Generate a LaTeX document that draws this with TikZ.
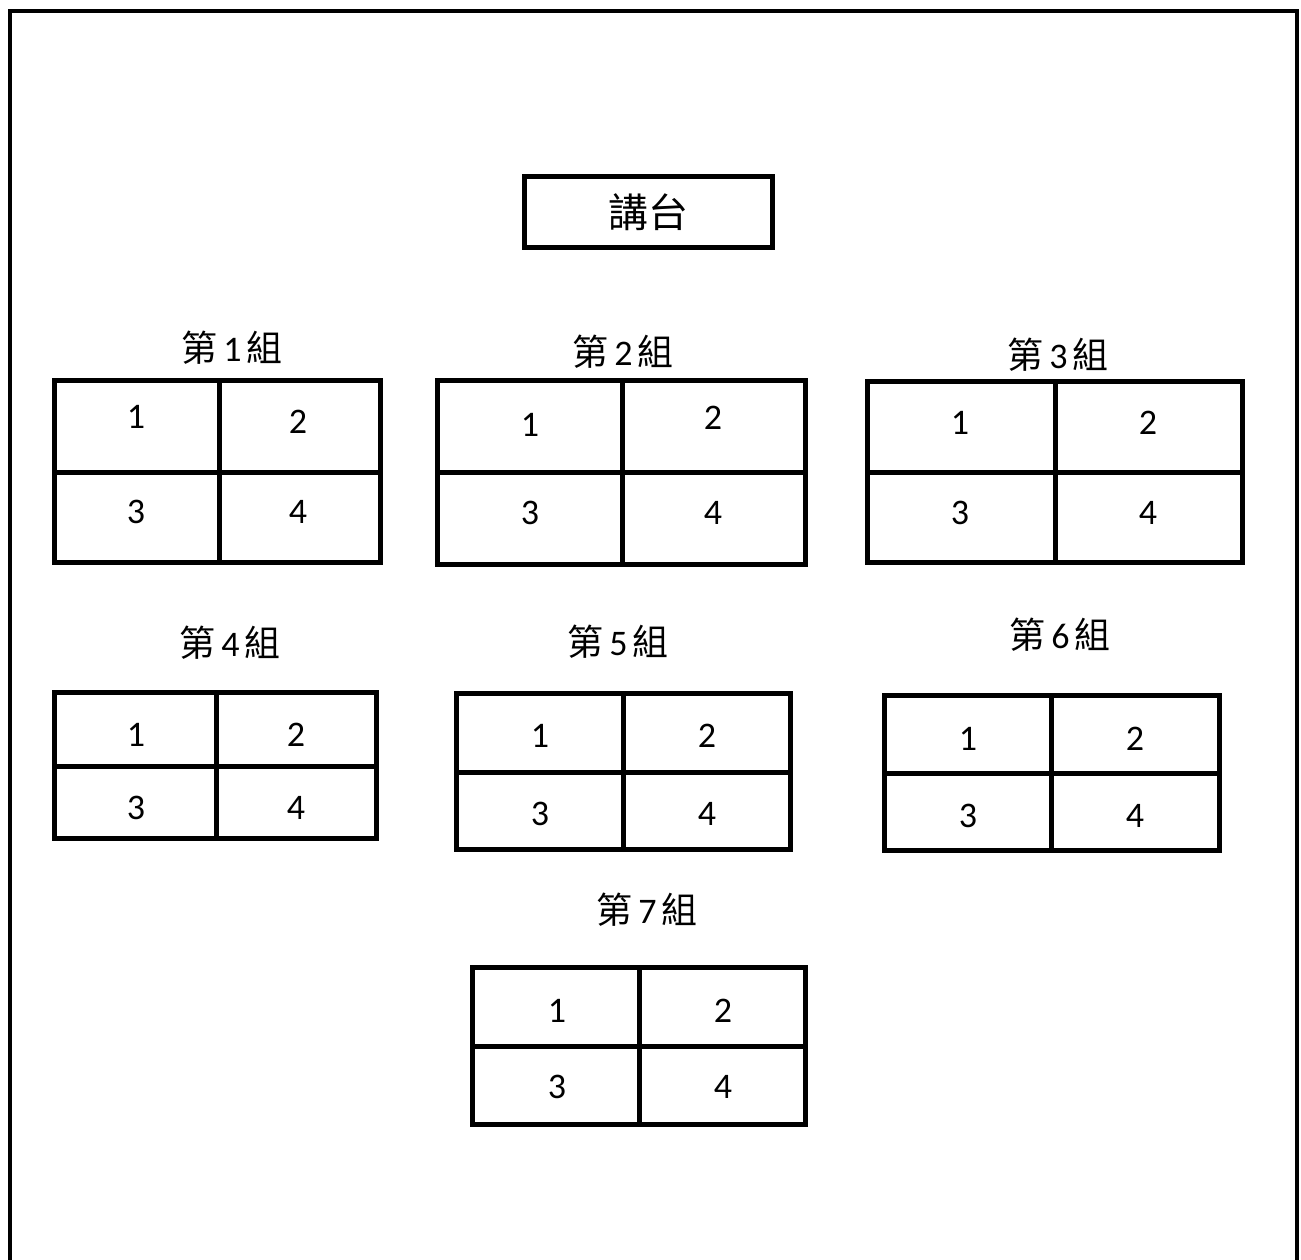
\documentclass[tikz,border=0pt]{standalone}
\usepackage{fontspec}
\setmainfont{Carlito}
\newfontfamily\cjk{Noto Sans CJK TC}
\tikzset{
  tbl/.style={line width=5pt},
  frame/.style={line width=4pt},
  num/.style={font=\fontsize{36}{36}\selectfont, inner sep=0pt},
  lbl/.style={font=\fontsize{36}{36}\selectfont, inner sep=0pt},
  podium/.style={draw, line width=5pt, minimum width=248pt, minimum height=71pt, font=\cjk\fontsize{40}{40}\selectfont}
}
\newcommand{\grp}[1]{{\cjk 第}\hspace{6pt}#1\hspace{5pt}{\cjk 組}}
\begin{document}
\begin{tikzpicture}[x=1pt,y=-1pt]
\useasboundingbox (0,0) rectangle (1301,1259);
% outer frame (open at bottom)
\draw[frame] (9.5,1262) -- (9.5,10.5) -- (1296.5,10.5) -- (1296.5,1262);
% lectern
\node[podium] (podium) at (648.5,212) {講台};

% group 1
\draw[tbl] (54.5,380.5) rectangle (380.5,562.5);
\draw[tbl] (219,380.5) -- (219,562.5);
\draw[tbl] (54.5,472) -- (380.5,472);
\node[lbl] (g1) at (232,348) {\grp{1}};
\node[num] (g1a) at (136,417) {1};
\node[num] (g1b) at (298,422) {2};
\node[num] (g1c) at (136,512) {3};
\node[num] (g1d) at (298,512) {4};

% group 2
\draw[tbl] (437.5,380.5) rectangle (805.5,564.5);
\draw[tbl] (622,380.5) -- (622,564.5);
\draw[tbl] (437.5,472) -- (805.5,472);
\node[lbl] (g2) at (623,352) {\grp{2}};
\node[num] (g2a) at (530,425) {1};
\node[num] (g2b) at (713,418) {2};
\node[num] (g2c) at (530,513) {3};
\node[num] (g2d) at (713,513) {4};

% group 3
\draw[tbl] (867.5,381.5) rectangle (1242.5,562.5);
\draw[tbl] (1055,381.5) -- (1055,562.5);
\draw[tbl] (867.5,472) -- (1242.5,472);
\node[lbl] (g3) at (1058,355) {\grp{3}};
\node[num] (g3a) at (960,423) {1};
\node[num] (g3b) at (1148,423) {2};
\node[num] (g3c) at (960,513) {3};
\node[num] (g3d) at (1148,513) {4};

% group 4
\draw[tbl] (54.5,692.5) rectangle (376.5,838.5);
\draw[tbl] (216,692.5) -- (216,838.5);
\draw[tbl] (54.5,766) -- (376.5,766);
\node[lbl] (g4) at (230,643) {\grp{4}};
\node[num] (g4a) at (136,735) {1};
\node[num] (g4b) at (296,735) {2};
\node[num] (g4c) at (136,808) {3};
\node[num] (g4d) at (296,808) {4};

% group 5
\draw[tbl] (456.5,693.5) rectangle (790.5,849.5);
\draw[tbl] (623,693.5) -- (623,849.5);
\draw[tbl] (456.5,772) -- (790.5,772);
\node[lbl] (g5) at (618,642) {\grp{5}};
\node[num] (g5a) at (540,736) {1};
\node[num] (g5b) at (707,736) {2};
\node[num] (g5c) at (540,814) {3};
\node[num] (g5d) at (707,814) {4};

% group 6
\draw[tbl] (884.5,695.5) rectangle (1219.5,850.5);
\draw[tbl] (1051,695.5) -- (1051,850.5);
\draw[tbl] (884.5,773) -- (1219.5,773);
\node[lbl] (g6) at (1060,635) {\grp{6}};
\node[num] (g6a) at (968,739) {1};
\node[num] (g6b) at (1135,739) {2};
\node[num] (g6c) at (968,816) {3};
\node[num] (g6d) at (1135,816) {4};

% group 7
\draw[tbl] (472.5,967.5) rectangle (805.5,1124.5);
\draw[tbl] (639,967.5) -- (639,1124.5);
\draw[tbl] (472.5,1046) -- (805.5,1046);
\node[lbl] (g7) at (647,910) {\grp{7}};
\node[num] (g7a) at (557,1011) {1};
\node[num] (g7b) at (723,1011) {2};
\node[num] (g7c) at (557,1087) {3};
\node[num] (g7d) at (723,1087) {4};
\end{tikzpicture}
\end{document}
